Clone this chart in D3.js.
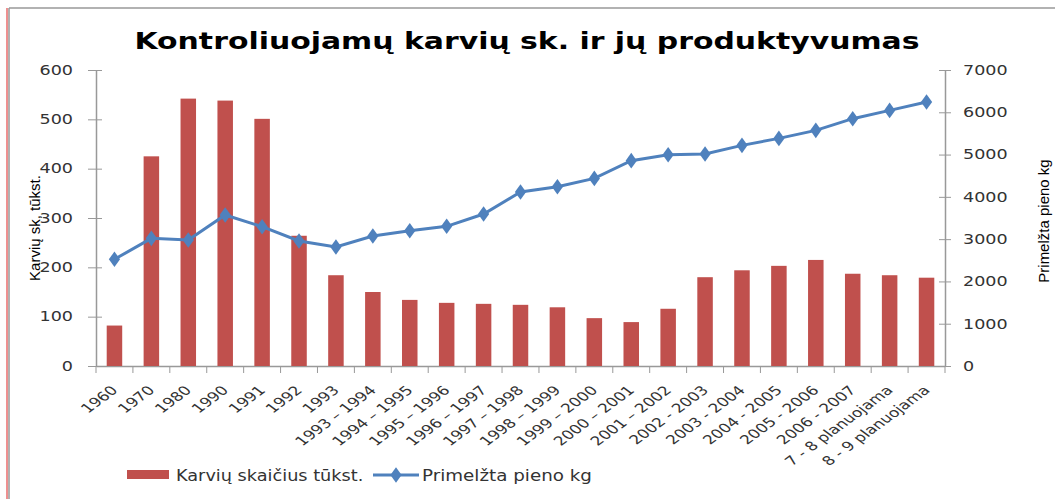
<!DOCTYPE html>
<html>
<head>
<meta charset="utf-8">
<script src="https://cdn.jsdelivr.net/npm/d3@7"></script>
<style>
  body { margin: 0; background: #fff; }
  svg { display: block; }
  .tick text { font-family: "DejaVu Sans", Verdana, sans-serif; font-size: 13.5px; fill: #333; }
  .xaxis .tick text { font-size: 12.6px; }
</style>
</head>
<body>
<svg id="chart" width="1055" height="499"></svg>
<script>
// categories on the x axis
let periods = ["1960", "1970", "1980", "1990", "1991", "1992", "1993",
    "1993 – 1994", "1994 – 1995", "1995 – 1996", "1996 – 1997", "1997 – 1998",
    "1998 – 1999", "1999 – 2000", "2000 – 2001", "2001 – 2002", "2002 - 2003",
    "2003 - 2004", "2004 - 2005", "2005 - 2006", "2006 - 2007",
    "7 - 8 planuojama", "8 - 9 planuojama"];

// cows, thousands (left axis, bars)
let cows = [82, 425, 542, 538, 501, 264, 184, 150, 134, 128, 126, 124,
    119, 97, 89, 116, 180, 194, 203, 215, 187, 184, 179];

// milk yield kg (right axis, line)
let milk = [2523, 3019, 2979, 3571, 3294, 2956, 2814, 3074, 3200, 3303, 3594, 4114,
    4240, 4437, 4856, 4997, 5013, 5218, 5383, 5573, 5849, 6045, 6243];

let leftTicks = [0, 100, 200, 300, 400, 500, 600];
let rightTicks = [0, 1000, 2000, 3000, 4000, 5000, 6000, 7000];

let svg = d3.select("svg#chart");

let pad = { left: 96, right: 945, top: 70, bottom: 366 };
let stretch = 1.3; // the original picture is drawn horizontally stretched

// frame of the chart area
svg.append("line").attr("x1", 7).attr("x2", 7).attr("y1", 8).attr("y2", 499)
    .attr("stroke", "#d22").attr("stroke-width", 1);
svg.append("line").attr("x1", 9).attr("x2", 9).attr("y1", 8).attr("y2", 499)
    .attr("stroke", "#999").attr("stroke-width", 1.5);
svg.append("line").attr("x1", 9).attr("x2", 1055).attr("y1", 8).attr("y2", 8)
    .attr("stroke", "#999").attr("stroke-width", 1.5);

let x = d3.scaleBand()
    .domain(periods)
    .range([pad.left, pad.right])
    .paddingInner(0.58)
    .paddingOuter(0.29);

let xPoint = d => x(d) + x.bandwidth() / 2;

let yLeft = d3.scaleLinear().domain([0, 600]).range([pad.bottom, pad.top]);
let yRight = d3.scaleLinear().domain([0, 7000]).range([pad.bottom, pad.top]);

/* axes */
let gLeft = svg.append("g")
    .attr("transform", "translate(" + pad.left + ",0)")
    .call(d3.axisLeft(yLeft).tickValues(leftTicks).tickFormat(d3.format("d"))
        .tickSize(8).tickSizeOuter(0));
gLeft.selectAll(".tick line").attr("x2", 6).attr("x1", -8);
gLeft.selectAll(".tick text").attr("x", 0)
    .attr("transform", "translate(-23,0) scale(" + stretch + ",1)");

let gRight = svg.append("g")
    .attr("transform", "translate(" + pad.right + ",0)")
    .call(d3.axisRight(yRight).tickValues(rightTicks).tickFormat(d3.format("d"))
        .tickSize(6).tickSizeOuter(0));
gRight.selectAll(".tick line").attr("x1", -6).attr("x2", 6);
gRight.selectAll(".tick text").attr("x", 0)
    .attr("transform", "translate(18,0) scale(" + stretch + ",1)");

// x axis: ticks sit at the band boundaries
let step = x.step();
let gX = svg.append("g")
    .attr("class", "xaxis")
    .attr("transform", "translate(0," + pad.bottom + ")")
    .call(d3.axisBottom(x).tickSize(0).tickSizeOuter(0));
gX.selectAll(".tick text")
    .attr("text-anchor", "end")
    .attr("transform", "translate(0,22) scale(1.35,1) rotate(-45)")
    .attr("dy", "0.35em")
    .attr("y", 0);
gX.selectAll(".tick").append("line")
    .attr("x1", -step / 2).attr("x2", -step / 2)
    .attr("y1", 0).attr("y2", 7)
    .attr("stroke", "#999");
svg.append("line")
    .attr("x1", pad.right).attr("x2", pad.right)
    .attr("y1", pad.bottom).attr("y2", pad.bottom + 7)
    .attr("stroke", "#999");

svg.selectAll("path.domain").attr("stroke", "#999").attr("stroke-width", 1.5);
svg.selectAll(".tick line").attr("stroke", "#999");

/* bars */
svg.append("g").selectAll("rect")
    .data(periods)
    .join("rect")
    .attr("x", d => x(d))
    .attr("width", x.bandwidth())
    .attr("y", (d, i) => yLeft(cows[i]))
    .attr("height", (d, i) => pad.bottom - yLeft(cows[i]))
    .attr("fill", "#c0504d");

/* line */
let line = d3.line()
    .x((d, i) => xPoint(periods[i]))
    .y(d => yRight(d));

svg.append("path")
    .datum(milk)
    .attr("d", line)
    .attr("fill", "none")
    .attr("stroke", "#4f81bd")
    .attr("stroke-width", 3);

let diamond = d3.symbol().type(d3.symbolDiamond).size(70);
svg.append("g").selectAll("path")
    .data(milk)
    .join("path")
    .attr("d", diamond)
    .attr("transform", (d, i) => "translate(" + xPoint(periods[i]) + "," + yRight(d) + ") scale(1.25,1)")
    .attr("fill", "#4f81bd");

/* titles */
svg.append("text")
    .attr("transform", "translate(527,49) scale(" + stretch + ",1)")
    .attr("text-anchor", "middle")
    .style("font-family", "'DejaVu Sans', Verdana, sans-serif")
    .style("font-weight", "bold")
    .style("font-size", "23px")
    .attr("fill", "#000")
    .text("Kontroliuojamų karvių sk. ir jų produktyvumas");

svg.append("text")
    .attr("transform", "translate(40,228) rotate(-90)")
    .attr("text-anchor", "middle")
    .style("font-family", "'Liberation Sans Narrow', 'Liberation Sans', sans-serif")
    .style("font-size", "15px")
    .attr("fill", "#000")
    .text("Karvių sk, tūkst.");

svg.append("text")
    .attr("transform", "translate(1049,221) rotate(-90)")
    .attr("text-anchor", "middle")
    .style("font-family", "'Liberation Sans Narrow', 'Liberation Sans', sans-serif")
    .style("font-size", "15px")
    .attr("fill", "#000")
    .text("Primelžta pieno kg");

/* legend */
let legend = svg.append("g").attr("transform", "translate(127,475)");
legend.append("rect")
    .attr("x", 0).attr("y", -5).attr("width", 42).attr("height", 9)
    .attr("fill", "#c0504d");
legend.append("text")
    .attr("transform", "translate(49,6) scale(1.18,1)")
    .style("font-family", "'DejaVu Sans', Verdana, sans-serif")
    .style("font-size", "15px")
    .attr("fill", "#333")
    .text("Karvių skaičius tūkst.");
legend.append("line")
    .attr("x1", 246).attr("x2", 292).attr("y1", 0).attr("y2", 0)
    .attr("stroke", "#4f81bd").attr("stroke-width", 3);
legend.append("path")
    .attr("d", diamond)
    .attr("transform", "translate(269,0) scale(1.25,1)")
    .attr("fill", "#4f81bd");
legend.append("text")
    .attr("transform", "translate(295,6) scale(1.22,1)")
    .style("font-family", "'DejaVu Sans', Verdana, sans-serif")
    .style("font-size", "15px")
    .attr("fill", "#333")
    .text("Primelžta pieno kg");
</script>
</body>
</html>
